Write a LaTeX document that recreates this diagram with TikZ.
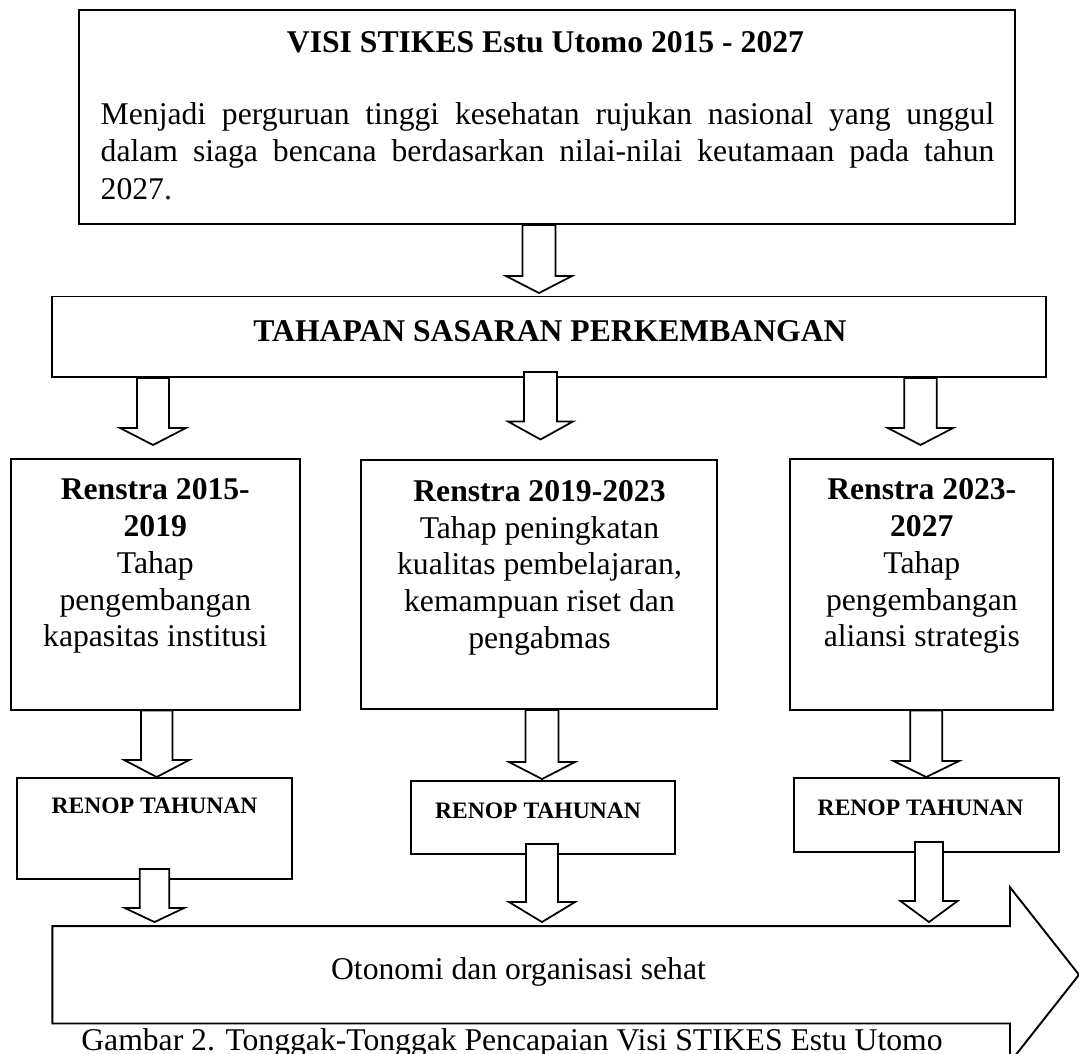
\documentclass[tikz,border=0pt]{standalone}
\usepackage{fontspec}
\setmainfont{Liberation Serif}
\usetikzlibrary{calc}
\newcommand{\blokpanah}[6]{%
  \draw[panah] ($(#1)+(-#4,0)$) -- ($(#1 |- #2)+(-#4,-#3-#6)$) -- ($(#1 |- #2)+(-#5,-#3-#6)$)
    -- ($(#1 |- #2)+(0,-#3)$) -- ($(#1 |- #2)+(#5,-#3-#6)$) -- ($(#1 |- #2)+(#4,-#3-#6)$)
    -- ($(#1)+(#4,0)$) -- cycle;}
\begin{document}
\begin{tikzpicture}[x=0.01cm, y=-0.01cm,
  kotak/.style={draw, line width=0.55pt, inner sep=0pt},
  panah/.style={draw, fill=white, line width=0.5pt},
  teks/.style={inner sep=0pt, font=\fontsize{9}{10.45}\selectfont},
  tebal/.style={inner sep=0pt, font=\fontsize{9}{10.45}\selectfont\bfseries},
  kecil/.style={inner sep=0pt, font=\fontsize{6.7}{8}\selectfont\bfseries}]
\useasboundingbox (0,0) rectangle (1079,1053);
\node[kotak, minimum width=9.35cm, minimum height=2.14cm] (V_0) at (547,117) {};
\node[tebal, anchor=base] (V_1) at (545.5,52) {VISI STIKES Estu Utomo 2015 - 2027};
\node[teks, anchor=north, text width=8.93cm, align=justify, font=\fontsize{9}{10.7}\selectfont] (V_2) at (547.5,101.4) {Menjadi perguruan tinggi kesehatan rujukan nasional yang unggul\linebreak dalam siaga bencana berdasarkan nilai-nilai keutamaan pada tahun\linebreak 2027.};
\node[kotak, minimum width=9.93cm, minimum height=0.805cm] (T_0) at (549,336.75) {};
\node[tebal, anchor=base] (T_1) at (550,341) {TAHAPAN SASARAN PERKEMBANGAN};
\node[kotak, minimum width=2.89cm, minimum height=2.5cm] (R_1) at (155.7,584.5) {};
\node[teks, anchor=north, align=center] (R_1_t) at (155.3,478) {\textbf{Renstra 2015-}\\\textbf{2019}\\Tahap\\pengembangan\\kapasitas institusi};
\node[kotak, minimum width=3.56cm, minimum height=2.49cm] (R_2) at (539,584.5) {};
\node[teks, anchor=north, align=center] (R_2_t) at (539.5,479.6) {\textbf{Renstra 2019-2023}\\Tahap peningkatan\\kualitas pembelajaran,\\kemampuan riset dan\\pengabmas};
\node[kotak, minimum width=2.63cm, minimum height=2.5cm] (R_3) at (921.5,584.5) {};
\node[teks, anchor=north, align=center] (R_3_t) at (921.8,478) {\textbf{Renstra 2023-}\\\textbf{2027}\\Tahap\\pengembangan\\aliansi strategis};
\node[kotak, minimum width=2.74cm, minimum height=1.01cm] (N_1) at (154.5,828.5) {};
\node[kecil, anchor=base] (N_1_t) at (154.6,813) {RENOP TAHUNAN};
\node[kotak, minimum width=2.64cm, minimum height=0.73cm] (N_2) at (543,817.5) {};
\node[kecil, anchor=base] (N_2_t) at (538,818) {RENOP TAHUNAN};
\node[kotak, minimum width=2.646cm, minimum height=0.74cm] (N_3) at (926.3,815) {};
\node[kecil, anchor=base] (N_3_t) at (920.6,815) {RENOP TAHUNAN};
\node[inner sep=0pt, minimum width=9.556cm, minimum height=0.96cm] (O_0) at (531.2,974.75) {};
\draw[kotak] (O_0.north west) -- (O_0.north east) -- ($(O_0.north east)+(0,-38.75)$) -- ($(O_0.east)+(69,0)$) -- ($(O_0.south east)+(0,38.75)$) -- (O_0.south east) -- (O_0.south west) -- cycle;
\node[teks, anchor=base] (O_1) at (518.5,979) {Otonomi dan organisasi sehat};
\node[teks, anchor=base] (G_0) at (512,1050) {Gambar 2. Tonggak-Tonggak Pencapaian Visi STIKES Estu Utomo};
\coordinate (A_0) at ($(V_0.south)+(-8,0)$);
\coordinate (A_1) at ($(T_0.south)+(-396,0)$);
\coordinate (A_2) at ($(T_0.south)+(-8.5,-6)$);
\coordinate (A_3) at ($(T_0.south)+(371.5,0)$);
\coordinate (B_1) at ($(R_1.south)+(1,0)$);
\coordinate (B_2) at ($(R_2.south)+(3,0)$);
\coordinate (B_3) at ($(R_3.south)+(4.8,0)$);
\coordinate (C_1) at ($(N_1.south)+(0,-11)$);
\coordinate (C_2) at ($(N_2.south)+(-1,-11)$);
\coordinate (C_3) at ($(N_3.south)+(2.7,-11)$);
\blokpanah{A_0}{T_0.north}{2.5}{16.5}{33}{17}
\blokpanah{A_1}{R_1.north}{13.5}{16}{33}{17}
\blokpanah{A_2}{R_2.north}{19.5}{16.5}{32.5}{18}
\blokpanah{A_3}{R_3.north}{13.5}{16.3}{32.7}{17}
\blokpanah{B_1}{N_1.north}{0}{15.8}{32.5}{17}
\blokpanah{B_2}{N_2.north}{1}{16.5}{33}{17}
\blokpanah{B_3}{N_3.north}{0}{16}{32.7}{16}
\blokpanah{C_1}{O_0.north}{4}{14.8}{29.6}{14}
\blokpanah{C_2}{O_0.north}{4}{16}{33}{20}
\blokpanah{C_3}{O_0.north}{4}{14}{28.5}{21}
\end{tikzpicture}
\end{document}
